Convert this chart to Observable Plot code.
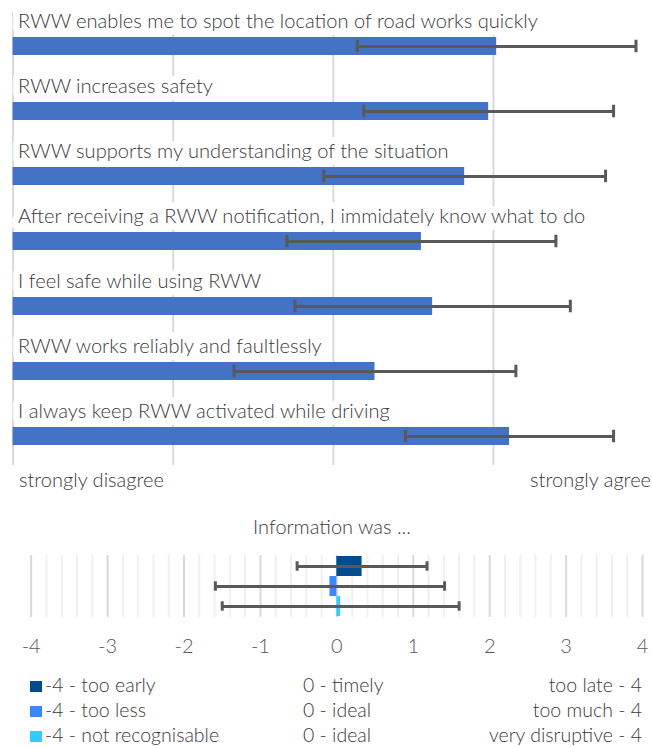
<!DOCTYPE html>
<html>
<head>
<meta charset="utf-8">
<script src="https://cdn.jsdelivr.net/npm/d3@7"></script>
<script src="https://cdn.jsdelivr.net/npm/@observablehq/plot@0.6"></script>
<style>
  html, body { margin: 0; padding: 0; background: #fff; }
  body { width: 652px; height: 747px; overflow: hidden; font-family: Lato, "Open Sans", sans-serif; font-weight: 300; color: #3a3a3a; }
  svg { display: block; }
  .anchors { height: 28px; line-height: 28px; display: flex; justify-content: space-between; padding: 0 1px 0 19px; font-size: 20px; }
  .title { height: 62px; line-height: 66px; text-align: center; padding-left: 12px; font-size: 20px; }
  .legend .row { position: relative; height: 25px; font-size: 19.5px; }
  .legend .row span.l, .legend .row span.m, .legend .row span.r { top: 3px; line-height: 18px; }
  .legend .l { position: absolute; left: 30px; }
  .legend .sw { display: inline-block; width: 12px; height: 11px; margin-right: 3px; }
  .legend .m { position: absolute; left: 303px; }
  .legend .r { position: absolute; right: 10px; }
</style>
</head>
<body>
<div id="topChart"></div>
<div class="anchors" id="anchors"></div>
<div class="title" id="title"></div>
<div id="bottomChart"></div>
<div class="legend" id="legend"></div>
<script>
// ---- data: agreement statements (1 = strongly disagree ... 5 = strongly agree)
const statements = [
  "RWW enables me to spot the location of road works quickly",
  "RWW increases safety",
  "RWW supports my understanding of the situation",
  "After receiving a RWW notification, I immidately know what to do",
  "I feel safe while using RWW",
  "RWW works reliably and faultlessly",
  "I always keep RWW activated while driving"
];
const means = [4.02, 3.97, 3.82, 3.55, 3.62, 3.26, 4.10];
const sds   = [0.87, 0.78, 0.88, 0.84, 0.86, 0.88, 0.65];
const scaleTicks = [1, 2, 3, 4, 5];
const anchorLabels = ["strongly disagree", "strongly agree"];

// ---- data: "Information was ..." (-4 ... 4)
const infoTitle = "Information was ...";
const infoItems = ["timing", "amount", "disruption"];
const infoMeans = [0.33, -0.09, 0.05];
const infoSds   = [0.85, 1.50, 1.55];
const infoColors = ["#004C8C", "#3A87FF", "#33CCFF"];
const axisTicks = [-4, -3, -2, -1, 0, 1, 2, 3, 4];
const legendLeft  = ["-4 - too early", "-4 - too less", "-4 - not recognisable"];
const legendMid   = ["0 - timely", "0 - ideal", "0 - ideal"];
const legendRight = ["too late - 4", "too much - 4", "very disruptive - 4"];

const rows = statements.map((s, i) => ({statement: s, mean: means[i], sd: sds[i]}));
const info = infoItems.map((k, i) => ({item: k, mean: infoMeans[i], sd: infoSds[i]}));

const errColor = "#595959";

const chartTop = Plot.plot({
  width: 652, height: 465,
  marginTop: 12, marginBottom: 0, marginLeft: 0, marginRight: 0,
  style: {fontFamily: "Lato, 'Open Sans', sans-serif", fontWeight: 300, background: "white"},
  x: {domain: [1, 5], range: [12.6, 653.1], axis: null},
  y: {type: "band", domain: statements, range: [37.25, 448.75], paddingInner: 0.7176, paddingOuter: 0, align: 0, axis: null},
  marks: [
    Plot.ruleX(scaleTicks, {x: d => d, stroke: "#d9d9d9", strokeWidth: 2}),
    Plot.text(rows, {x: 1, y: "statement", text: "statement", textAnchor: "start", dx: 5, dy: -25,
      fontSize: 20.1, fontWeight: 300, fill: "#3a3a3a", stroke: "white", strokeWidth: 14, strokeLinejoin: "round", paintOrder: "stroke"}),
    Plot.barX(rows, {x1: 1, x2: "mean", y: "statement", fill: "#4472C4"}),
    Plot.ruleY(rows, {y: "statement", x1: d => d.mean - d.sd, x2: d => d.mean + d.sd, stroke: errColor, strokeWidth: 3}),
    Plot.tickX(rows, {x: d => d.mean - d.sd, y: "statement", stroke: errColor, strokeWidth: 3, insetTop: 2.75, insetBottom: 2.75}),
    Plot.tickX(rows, {x: d => d.mean + d.sd, y: "statement", stroke: errColor, strokeWidth: 3, insetTop: 2.75, insetBottom: 2.75})
  ]
});
document.getElementById("topChart").append(chartTop);

const anchors = document.getElementById("anchors");
anchorLabels.forEach(t => { const s = document.createElement("span"); s.textContent = t; anchors.append(s); });
document.getElementById("title").textContent = infoTitle;

const minorTicks = d3.range(-40, 41, 2).map(v => v / 10).filter(v => !Number.isInteger(v));

const chartBottom = Plot.plot({
  width: 652, height: 118,
  marginTop: 0, marginBottom: 56, marginLeft: 30.7, marginRight: 10,
  style: {fontFamily: "Lato, 'Open Sans', sans-serif", fontWeight: 300, color: "#595959", background: "white"},
  x: {domain: [-4, 4], label: null},
  y: {type: "band", domain: infoItems, padding: 0, axis: null},
  color: {domain: infoItems, range: infoColors},
  marks: [
    Plot.ruleX(minorTicks, {x: d => d, stroke: "#f0f0f0", strokeWidth: 2}),
    Plot.ruleX(axisTicks, {x: d => d, stroke: "#d9d9d9", strokeWidth: 2}),
    Plot.barX(info, {x1: 0, x2: "mean", y: "item", fill: "item"}),
    Plot.ruleY(info, {y: "item", x1: d => d.mean - d.sd, x2: d => d.mean + d.sd, stroke: errColor, strokeWidth: 3}),
    Plot.tickX(info, {x: d => d.mean - d.sd, y: "item", stroke: errColor, strokeWidth: 3, insetTop: 5.3, insetBottom: 5.3}),
    Plot.tickX(info, {x: d => d.mean + d.sd, y: "item", stroke: errColor, strokeWidth: 3, insetTop: 5.3, insetBottom: 5.3}),
    Plot.axisX({ticks: axisTicks, tickSize: 0, tickPadding: 21, fontSize: 20, label: null, tickFormat: d => String(d)})
  ]
});
document.getElementById("bottomChart").append(chartBottom);

const legend = document.getElementById("legend");
infoItems.forEach((k, i) => {
  const row = document.createElement("div"); row.className = "row";
  const l = document.createElement("span"); l.className = "l";
  const sw = document.createElement("span"); sw.className = "sw"; sw.style.background = infoColors[i];
  l.append(sw, document.createTextNode(legendLeft[i]));
  const m = document.createElement("span"); m.className = "m"; m.textContent = legendMid[i];
  const r = document.createElement("span"); r.className = "r"; r.textContent = legendRight[i];
  row.append(l, m, r);
  legend.append(row);
});
</script>
</body>
</html>
